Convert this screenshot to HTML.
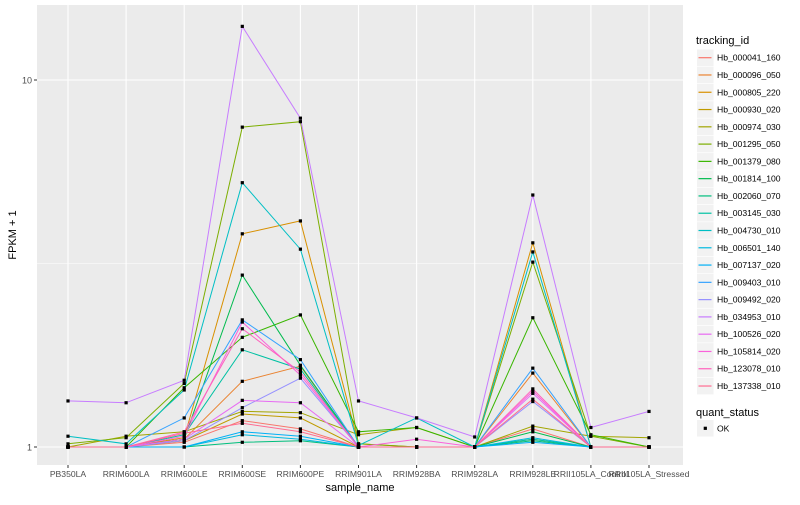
<!DOCTYPE html>
<html><head><meta charset="utf-8"><style>
body{margin:0;background:#fff;font-family:"Liberation Sans",sans-serif}
svg text{font-family:"Liberation Sans",sans-serif}
</style></head><body>
<svg id="chart" width="800" height="500" viewBox="0 0 800 500" xmlns="http://www.w3.org/2000/svg">
<rect width="800" height="500" fill="#fff"/>
<rect x="37" y="5" width="646" height="460" fill="#EBEBEB"/>
<g id="grid"></g><g id="lines"></g><g id="points"></g><g id="axes"></g><g id="legend"></g>
<text x="360" y="491" font-size="11" text-anchor="middle" fill="#000">sample_name</text>
<text transform="translate(16,235) rotate(-90)" font-size="11" text-anchor="middle" fill="#000">FPKM + 1</text>
</svg>
<script>
const categories = ["PB350LA","RRIM600LA","RRIM600LE","RRIM600SE","RRIM600PE","RRIM901LA","RRIM928BA","RRIM928LA","RRIM928LE","RRII105LA_Control","RRII105LA_Stressed"];
const seriesNames = ["Hb_000041_160","Hb_000096_050","Hb_000805_220","Hb_000930_020","Hb_000974_030","Hb_001295_050","Hb_001379_080","Hb_001814_100","Hb_002060_070","Hb_003145_030","Hb_004730_010","Hb_006501_140","Hb_007137_020","Hb_009403_010","Hb_009492_020","Hb_034953_010","Hb_100526_020","Hb_105814_020","Hb_123078_010","Hb_137338_010"];
const seriesColors = ["#F8766D","#EA8331","#D89000","#C09B00","#A3A500","#7CAE00","#39B600","#00BB4E","#00BF7D","#00C1A3","#00BFC4","#00BAE0","#00B0F6","#35A2FF","#9590FF","#C77CFF","#E76BF3","#FA62DB","#FF62BC","#FF6C91"];
const s000041 = [1,1,1.03,1.18,1.12,1,1,1,1.12,1,1];
const s000096 = [1,1,1.05,1.51,1.66,1,1,1,1.59,1,1];
const s000805 = [1,1,1.06,3.81,4.13,1.02,1,1,3.6,1,1];
const s000930 = [1,1,1.04,1.23,1.2,1,1,1,1.05,1,1];
const s000974 = [1,1.07,1.1,1.25,1.24,1.08,1.13,1,1.14,1.07,1.06];
const s001295 = [1.02,1.06,1.49,7.44,7.7,1.02,1,1,3.19,1.07,1];
const s001379 = [1,1,1.45,1.99,2.29,1.1,1.13,1,2.25,1.08,1];
const s001814 = [1,1,1.05,2.94,1.67,1,1,1,1.1,1,1];
const s002060 = [1,1,1,1.03,1.04,1,1,1,1.04,1,1];
const s003145 = [1,1,1.08,1.84,1.63,1,1,1,1.05,1,1];
const s004730 = [1.07,1.02,1.43,5.25,3.46,1.01,1.2,1,3.4,1,1];
const s006501 = [1,1,1,1.08,1.05,1,1,1,1.06,1,1];
const s007137 = [1,1,1,1.1,1.07,1,1,1,1.03,1,1];
const s009403 = [1,1,1.2,2.22,1.73,1,1,1,1.64,1,1];
const s009492 = [1,1,1.04,1.28,1.54,1,1,1,1.33,1,1];
const s034953 = [1.335,1.32,1.52,14.0,7.87,1.335,1.2,1.065,4.86,1.13,1.25];
const s100526 = [1,1,1.05,1.34,1.32,1,1,1,1.4,1,1];
const s105814 = [1,1,1.07,2.19,1.57,1,1.05,1,1.42,1,1];
const s123078 = [1,1,1.1,2.1,1.6,1,1,1,1.44,1,1];
const s137338 = [1,1,1.09,1.16,1.1,1,1,1,1.35,1,1];
const seriesValues = [s000041,s000096,s000805,s000930,s000974,s001295,s001379,s001814,s002060,s003145,s004730,s006501,s007137,s009403,s009492,s034953,s100526,s105814,s123078,s137338];
const yTicks = [1,10];
const yTickLabels = ["1","10"];

const NS="http://www.w3.org/2000/svg";
const X0=68, DX=58.1, Y1=447, PERDEC=367;
function xScale(i){return X0+i*DX;}
function yScale(v){return Y1-Math.log10(v)*PERDEC;}
function mk(tag,attrs,parent){const e=document.createElementNS(NS,tag);for(const k in attrs)e.setAttribute(k,attrs[k]);parent.appendChild(e);return e;}
const grid=document.getElementById('grid'),lines=document.getElementById('lines'),pts=document.getElementById('points'),axes=document.getElementById('axes'),leg=document.getElementById('legend');
// minor grid
const mg=mk('line',{x1:37,x2:683,y1:yScale(Math.sqrt(10)),y2:yScale(Math.sqrt(10)),stroke:'#fff','stroke-width':0.5},grid);


yTicks.forEach((t,i)=>{
  const g=mk('line',{x1:37,x2:683,y1:yScale(t),y2:yScale(t),stroke:'#fff','stroke-width':1.1},grid);
  
  
  const tk=mk('line',{x1:34,x2:37,y1:yScale(t),y2:yScale(t),stroke:'#333','stroke-width':1},axes);
  
  
  const lb=mk('text',{x:32,y:yScale(t)+3.5,'font-size':9,'text-anchor':'end',fill:'#4D4D4D'},axes);
  lb.textContent=yTickLabels[i];
  
  
});
categories.forEach((c,i)=>{
  const x=xScale(i);
  const g=mk('line',{x1:x,x2:x,y1:5,y2:465,stroke:'#fff','stroke-width':1.1},grid);
  
  
  const tk=mk('line',{x1:x,x2:x,y1:465,y2:468,stroke:'#333','stroke-width':1},axes);
  
  
  const lb=mk('text',{x:x,y:477,'font-size':8.6,'text-anchor':'middle',fill:'#4D4D4D'},axes);
  lb.textContent=c;
  
  
});
seriesValues.forEach((vals,si)=>{
  const d=vals.map((v,i)=>(i?'L':'M')+xScale(i).toFixed(1)+','+yScale(v).toFixed(1)).join(' ');
  const p=mk('path',{d:d,fill:'none',stroke:seriesColors[si],'stroke-width':1},lines);
  
  
  vals.forEach((v,i)=>{
    const c=mk('rect',{x:xScale(i)-1.6,y:yScale(v)-1.6,width:3.2,height:3.2,fill:'#000'},pts);
    
    
  });
});
// legend
const lt=mk('text',{x:696,y:44,'font-size':11,fill:'#000'},leg);
lt.textContent='tracking_id';


seriesNames.forEach((n,i)=>{
  const cy=57.7+i*17.28;
  const g=mk('g',{},leg);
  
  
  mk('rect',{x:697,y:cy-8.3,width:16.6,height:16.6,fill:'#F2F2F2'},g);
  mk('line',{x1:698.5,x2:711.5,y1:cy,y2:cy,stroke:seriesColors[i],'stroke-width':1.2},g);
  const t=mk('text',{x:717,y:cy+3,'font-size':8.6,fill:'#000'},g);
  t.textContent=n;
});
const qt=mk('text',{x:696,y:416,'font-size':11,fill:'#000'},leg);
qt.textContent='quant_status';


const qg=mk('g',{},leg);


mk('rect',{x:697,y:420,width:16.6,height:16.6,fill:'#F2F2F2'},qg);
mk('rect',{x:703.7,y:426.7,width:3.2,height:3.2,fill:'#000'},qg);
const ok=mk('text',{x:717,y:431.5,'font-size':8.6,fill:'#000'},qg);
ok.textContent='OK';
</script>
</body></html>
